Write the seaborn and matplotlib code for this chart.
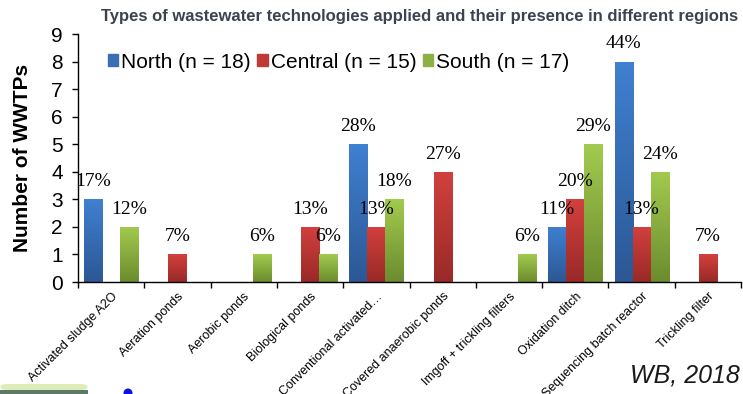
import matplotlib
matplotlib.use("Agg")
import matplotlib.pyplot as plt
import matplotlib.patches as mpatches
import numpy as np
import pandas as pd
import seaborn as sns
from matplotlib.colors import to_rgb, LinearSegmentedColormap

# data
technologies = ["Activated sludge A2O", "Aeration ponds", "Aerobic ponds", "Biological ponds",
                "Conventional activated…", "Covered anaerobic ponds", "Imgoff + trickling filters",
                "Oxidation ditch", "Sequencing batch reactor", "Trickling filter"]
regions = ["North (n = 18)", "Central (n = 15)", "South (n = 17)"]
north = [3, 0, 0, 0, 5, 0, 0, 2, 8, 0]
central = [0, 1, 0, 2, 2, 4, 0, 3, 2, 1]
south = [2, 0, 1, 1, 3, 0, 1, 5, 4, 0]
north_pct = ["17%", "", "", "", "28%", "", "", "11%", "44%", ""]
central_pct = ["", "7%", "", "13%", "13%", "27%", "", "20%", "13%", "7%"]
south_pct = ["12%", "", "6%", "6%", "18%", "", "6%", "29%", "24%", ""]

# top / bottom shades of each series
top_cols = ["#3f80d0", "#d2403d", "#a2ca4e"]
bot_cols = ["#2c5895", "#992a28", "#6c8c2f"]
mid_cols = ["#3a6fb6", "#bf3936", "#8cb043"]

df = pd.DataFrame({
    "tech": technologies * 3,
    "region": [r for r in regions for _ in technologies],
    "count": north + central + south,
})

plt.rcParams["font.family"] = ["Liberation Sans", "DejaVu Sans"]

fig = plt.figure(figsize=(7.43, 3.94), dpi=100)
ax = fig.add_axes([78 / 743, 1 - 282 / 394, 663 / 743, 248 / 394])

sns.barplot(data=df, x="tech", y="count", hue="region", hue_order=regions,
            palette=mid_cols, width=0.815, ax=ax, legend=False, saturation=1)

# gradient fill clipped to every bar
for container, tc, bc in zip(ax.containers, top_cols, bot_cols):
    cmap = LinearSegmentedColormap.from_list("g", [to_rgb(bc), to_rgb(tc)])
    for bar in container:
        h = bar.get_height()
        if h <= 0:
            continue
        x0 = bar.get_x()
        w = bar.get_width()
        grad = np.linspace(1, 0, 50).reshape(-1, 1)
        im = ax.imshow(grad, cmap=cmap, extent=[x0, x0 + w, 0, h], aspect="auto",
                       zorder=bar.get_zorder() + 0.1, interpolation="bilinear")
        im.set_clip_path(bar)

# percentage labels
for container, labels in zip(ax.containers, [north_pct, central_pct, south_pct]):
    for bar, lab in zip(container, labels):
        if lab == "":
            continue
        ax.annotate(lab, (bar.get_x() + bar.get_width() / 2, bar.get_height()),
                    xytext=(0, 9.5), textcoords="offset points", ha="center",
                    va="baseline", fontsize=14, family="Liberation Serif", zorder=5)

ax.set_xlim(-0.5, len(technologies) - 0.5)
ax.set_ylim(0, 9)
ax.set_yticks(range(10))
ax.set_xlabel("")
ax.set_ylabel("Number of WWTPs", fontsize=15, fontweight="bold", labelpad=14)
ax.set_xticks(range(len(technologies)))
ax.set_xticklabels(technologies, rotation=45, ha="right", rotation_mode="anchor",
                   fontsize=9)
ax.set_xticks(np.arange(-0.5, len(technologies) + 0.5, 1), minor=True)
ax.tick_params(axis="x", which="major", length=0, pad=6)
ax.tick_params(axis="x", which="minor", length=4, width=1)
ax.tick_params(axis="y", labelsize=15, length=4, width=1, pad=7)
for s in ["top", "right"]:
    ax.spines[s].set_visible(False)
ax.spines["left"].set_linewidth(1)
ax.spines["bottom"].set_linewidth(1)

handles = [mpatches.Patch(color=c, label=r) for c, r in zip(mid_cols, regions)]
ax.legend(handles=handles, loc="center left", bbox_to_anchor=(0.045, 0.886),
          ncol=3, frameon=False, fontsize=15, borderpad=0, borderaxespad=0,
          handlelength=0.5, handleheight=0.5, handletextpad=0.15, columnspacing=0.3)

fig.text(420 / 743, 1 - 17 / 394,
         "Types of wastewater technologies applied and their presence in different regions",
         ha="center", va="center", fontsize=12, fontweight="bold", color="#3b4350")
fig.text(740 / 743, 1 - 376 / 394, "WB, 2018", ha="right", va="center",
         fontsize=18, style="italic", color="#1a1a1a")

# cropped slide bits at bottom left
fig.patches.append(mpatches.FancyBboxPatch((0, 1 - 390 / 394), 88 / 743, 6 / 394,
                                           boxstyle="round,pad=0,rounding_size=0.01",
                                           transform=fig.transFigure, fc="#dcedb8",
                                           ec="none"))
fig.patches.append(mpatches.Rectangle((0, 1 - 394 / 394), 88 / 743, 4 / 394,
                                      transform=fig.transFigure, fc="#5d7a68", ec="none"))
fig.patches.append(mpatches.Ellipse((128 / 743, 1 - 393 / 394), 9 / 743, 9 / 394,
                                    transform=fig.transFigure, fc="#1010e0", ec="none"))

fig.savefig("out.png", dpi=100)
